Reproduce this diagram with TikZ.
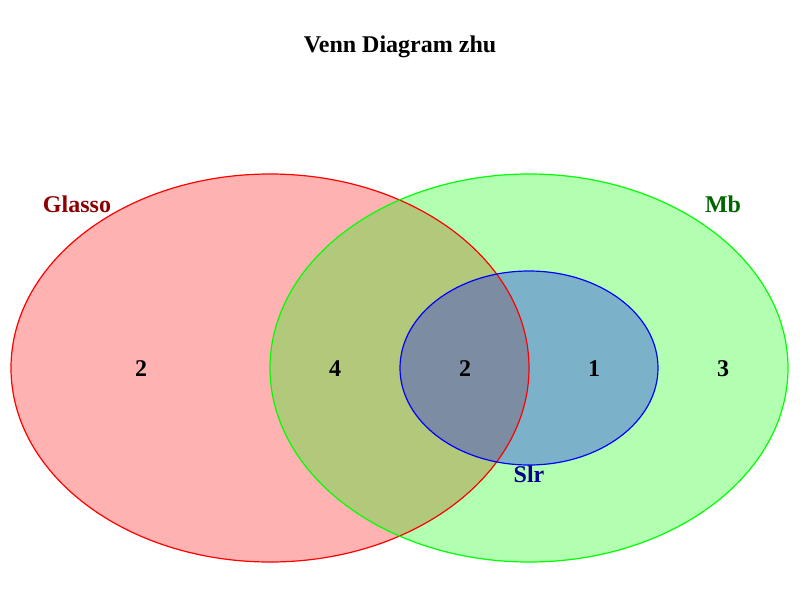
\documentclass[tikz,border=0pt]{standalone}
\usepackage{fontspec}
\setmainfont{Liberation Serif}
\begin{document}
\begin{tikzpicture}[x=1pt,y=-1pt,
  lbl/.style={font=\fontsize{24}{27}\selectfont\bfseries, inner sep=0pt, anchor=center},
  fillA/.style={fill={rgb,255:red,255;green,0;blue,0}, fill opacity=0.3},
  fillB/.style={fill={rgb,255:red,0;green,255;blue,0}, fill opacity=0.3},
  fillC/.style={fill={rgb,255:red,0;green,0;blue,255}, fill opacity=0.3},
  lineA/.style={draw={rgb,255:red,255;green,0;blue,0}, line width=1.2pt},
  lineB/.style={draw={rgb,255:red,0;green,255;blue,0}, line width=1.2pt},
  lineC/.style={draw={rgb,255:red,0;green,0;blue,255}, line width=1.2pt}]
\useasboundingbox (0,0) rectangle (800,600);
\fill[white] (0,0) rectangle (800,600);
\path[fillA] (270,368) ellipse [x radius=259, y radius=194];
\path[fillB] (529,368) ellipse [x radius=259, y radius=194];
\path[fillC] (529,368) ellipse [x radius=129, y radius=97];
\path[lineA] (270,368) ellipse [x radius=259, y radius=194];
\path[lineB] (529,368) ellipse [x radius=259, y radius=194];
\path[lineC] (529,368) ellipse [x radius=129, y radius=97];
\node[lbl] (title) at (400,47) {Venn Diagram zhu};
\node[lbl, text={rgb,255:red,139;green,0;blue,0}] (glasso) at (77,204) {Glasso};
\node[lbl, text={rgb,255:red,0;green,100;blue,0}] (mb) at (723,204) {Mb};
\node[lbl, text={rgb,255:red,0;green,0;blue,139}] (slr) at (529,474) {Slr};
\node[lbl] (n1) at (141,369) {2};
\node[lbl] (n2) at (335,369) {4};
\node[lbl] (n3) at (465,369) {2};
\node[lbl] (n4) at (594,369) {1};
\node[lbl] (n5) at (723,369) {3};
\end{tikzpicture}
\end{document}
